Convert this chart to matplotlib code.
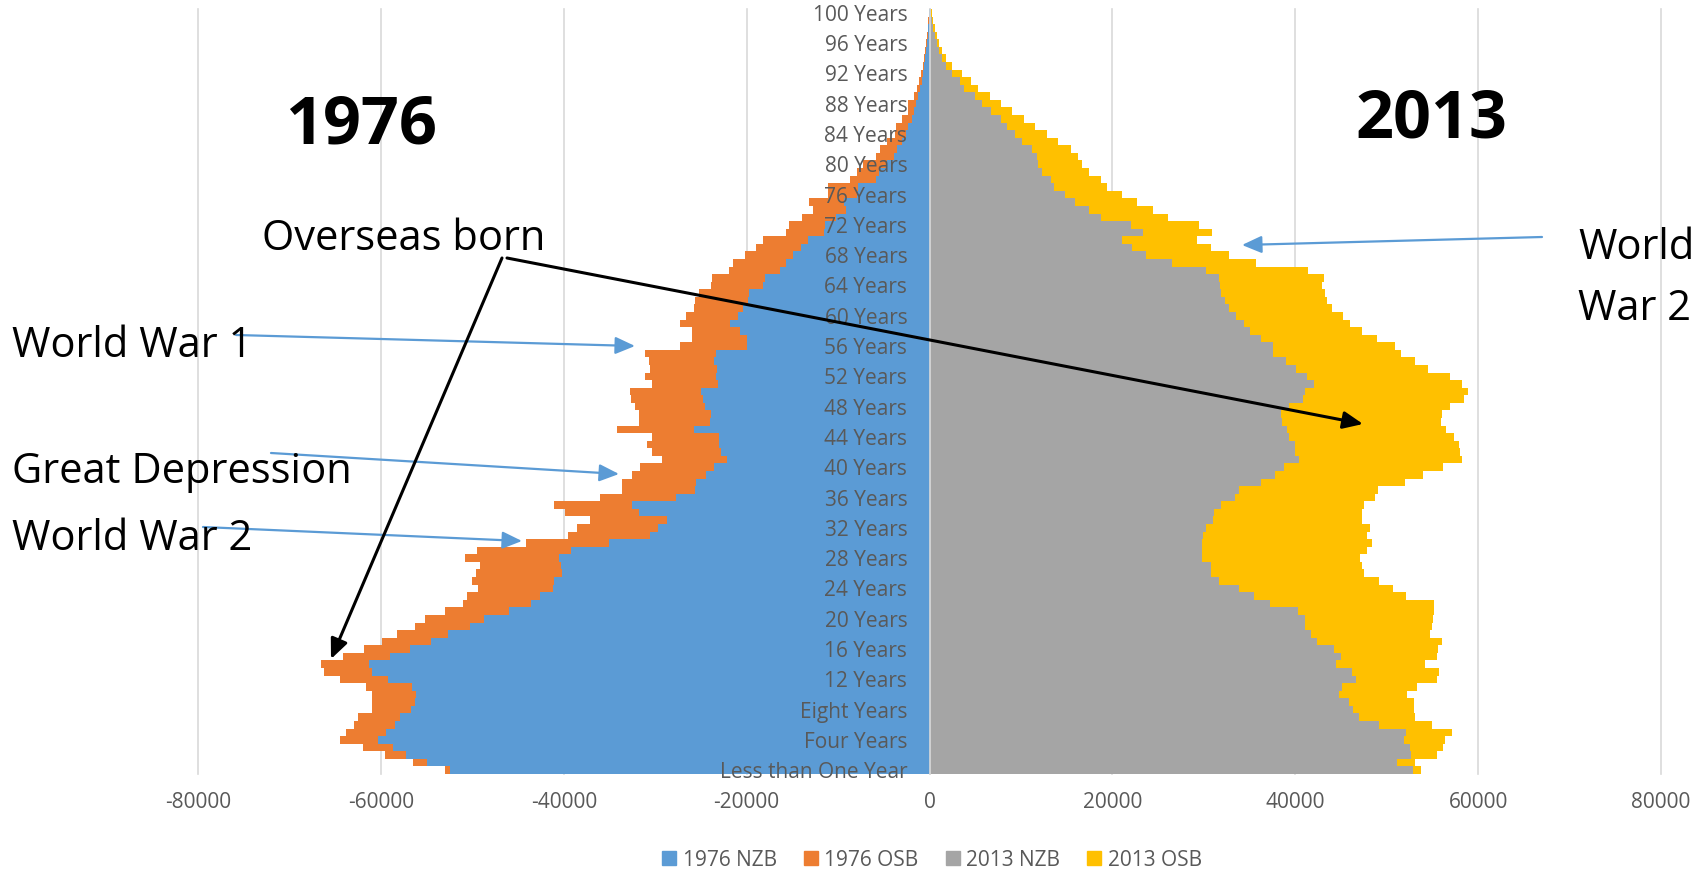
import matplotlib
matplotlib.use("Agg")
import matplotlib.pyplot as plt
from matplotlib.patches import FancyArrowPatch, Patch
import numpy as np

plt.rcParams['font.family'] = ['Open Sans', 'DejaVu Sans']
plt.rcParams['axes.unicode_minus'] = False

ages = np.arange(101)
words = {0: "Less than One Year", 4: "Four Years", 8: "Eight Years"}
age_labels = [words.get(a, f"{a} Years") for a in range(0, 101, 4)]

nzb_1976 = [52400, 55000, 57200, 58700, 60300, 59400, 58500, 57900, 56700, 56300,
            56200, 56600, 59200, 61000, 61300, 59000, 56800, 54500, 52700, 50300,
            48700, 46000, 43600, 42600, 41200, 41100, 40200, 40300, 40500, 39200,
            35100, 30600, 29700, 28700, 31800, 32500, 27700, 25600, 25500, 24400,
            23600, 22200, 22800, 23000, 23000, 25800, 24000, 23900, 24600, 24800,
            25000, 23100, 23300, 23200, 23600, 23400, 20000, 20000, 20700, 21800,
            20900, 20400, 19900, 19700, 18200, 18000, 16400, 15700, 14900, 14100,
            13300, 11500, 11400, 10200, 9100, 9300, 7900, 7800, 5900, 5500,
            4600, 3900, 3600, 3000, 2600, 2400, 1900, 1700, 1500, 1250,
            1000, 800, 700, 600, 450, 350, 270, 200, 140, 100, 80]
osb_1976 = [600, 1500, 2400, 3300, 4200, 4400, 4400, 4600, 4300, 4700,
            4800, 5000, 5300, 5200, 5300, 5100, 5000, 5400, 5500, 6000,
            6500, 7000, 7400, 8000, 8200, 8900, 9400, 8900, 10300, 10300,
            9000, 8900, 8900, 8400, 8100, 8600, 8300, 8000, 8100, 8100,
            8100, 7100, 7600, 7900, 7300, 8400, 7800, 7900, 7600, 7800,
            7800, 7300, 7800, 7400, 7100, 7700, 7300, 6000, 5300, 5500,
            5700, 5400, 5700, 5500, 5700, 5800, 5500, 5800, 5300, 4900,
            4900, 4200, 4000, 3700, 3600, 3900, 3200, 3300, 2800, 2400,
            2700, 1900, 1800, 1700, 1200, 1300, 1100, 700, 800, 450,
            400, 300, 200, 100, 150, 100, 80, 50, 40, 20, 20]
nzb_2013 = [52900, 51100, 52700, 52600, 51900, 52100, 49200, 47000, 46300, 45900,
            44800, 45100, 46600, 46200, 44500, 45000, 44200, 42400, 41700, 41100,
            41100, 40300, 37200, 35500, 33800, 31700, 30800, 30800, 29800, 29800,
            29800, 29900, 30200, 31000, 31100, 31900, 33400, 33900, 36200, 37800,
            38800, 40400, 40000, 40000, 39300, 39100, 38500, 38400, 39300, 40900,
            41100, 42000, 41300, 40100, 39000, 37600, 37600, 36200, 35100, 34400,
            33500, 32800, 32300, 31900, 31800, 31700, 30200, 26500, 23700, 22100,
            21000, 23400, 22000, 18800, 17400, 15900, 14800, 13600, 13300, 12300,
            11900, 11800, 11200, 10100, 9400, 8500, 7800, 6700, 5700, 4950,
            3800, 3300, 2500, 1800, 1400, 1070, 800, 600, 400, 270, 180]
osb_2013 = [900, 2000, 2800, 3600, 4500, 5000, 5800, 6100, 6700, 7100,
            7400, 8200, 8900, 9500, 9700, 10500, 11400, 13700, 13000, 13900,
            14000, 14900, 18000, 16600, 16900, 17500, 16700, 16500, 17300, 18100,
            18600, 17900, 18000, 16300, 16200, 15600, 15300, 15200, 15800, 16200,
            17400, 17800, 18000, 17900, 18100, 17400, 17400, 17700, 17600, 17600,
            17800, 16200, 15600, 14400, 14100, 14000, 13300, 12700, 12200, 11600,
            11700, 11200, 11200, 11300, 11100, 11400, 11200, 9200, 9100, 8700,
            8300, 7500, 7500, 7300, 7000, 6800, 6300, 5800, 5500, 5100,
            4800, 4400, 4300, 3900, 3400, 3000, 2500, 2300, 2100, 1650,
            1500, 1200, 1000, 700, 400, 330, 270, 200, 150, 80, 40]

series_names = ["1976 NZB", "1976 OSB", "2013 NZB", "2013 OSB"]
colors = ["#5B9BD5", "#ED7D31", "#A5A5A5", "#FFC000"]
x_ticks = np.arange(-80000, 80001, 20000)

W, H = 1696, 875
def fx(px):
    return px / W
def fy(py):
    return 1 - py / H

fig = plt.figure(figsize=(W / 100, H / 100), dpi=100)
ax = fig.add_axes([fx(198), fy(774), fx(1661) - fx(198), fy(9) - fy(774)])

# gridlines under the bars, tick labels over them
for v in x_ticks:
    ax.axvline(v, color='#D9D9D9', linewidth=1.2, zorder=0, clip_on=False)

left_nzb = -np.array(nzb_1976)
left_osb = -np.array(osb_1976)
ax.barh(ages, left_nzb, height=1.0, color=colors[0], linewidth=0)
ax.barh(ages, left_osb, left=left_nzb, height=1.0, color=colors[1], linewidth=0)
ax.barh(ages, nzb_2013, height=1.0, color=colors[2], linewidth=0)
ax.barh(ages, osb_2013, left=nzb_2013, height=1.0, color=colors[3], linewidth=0)

ax.set_xlim(-80000, 80000)
ax.set_ylim(-0.5, 100.5)
ax.set_xticks(x_ticks)
ax.set_xticklabels([str(v) for v in x_ticks])
ax.set_yticks(range(0, 101, 4))
ax.set_yticklabels(age_labels)
ax.tick_params(axis='x', length=0, pad=13, labelsize=15, labelcolor='#595959')
ax.tick_params(axis='y', length=0, pad=16, labelsize=15, labelcolor='#595959')
ax.set_axisbelow(False)
for s in ['top', 'right', 'bottom']:
    ax.spines[s].set_visible(False)
ax.spines['left'].set_position(('data', 0))
ax.spines['left'].set_color('#D9D9D9')
ax.spines['left'].set_linewidth(1.2)

handles = [Patch(color=c, label=n) for c, n in zip(colors, series_names)]
fig.legend(handles=handles, loc='center', bbox_to_anchor=(fx(932), fy(860)),
           ncol=4, frameon=False, fontsize=15, labelcolor='#595959',
           handlelength=0.68, handleheight=0.68, handletextpad=0.3,
           columnspacing=1.3)

# titles and notes
fig.text(fx(361), fy(143), "1976", ha='center', va='baseline', fontsize=48, fontweight='bold')
fig.text(fx(1431), fy(137), "2013", ha='center', va='baseline', fontsize=48, fontweight='bold')
fig.text(fx(262), fy(250), "Overseas born", ha='left', va='baseline', fontsize=30)
fig.text(fx(12), fy(357), "World War 1", ha='left', va='baseline', fontsize=30)
fig.text(fx(12), fy(483), "Great Depression", ha='left', va='baseline', fontsize=30)
fig.text(fx(12), fy(550), "World War 2", ha='left', va='baseline', fontsize=30)
fig.text(fx(1578), fy(259), "World", ha='left', va='baseline', fontsize=30)
fig.text(fx(1578), fy(320), "War 2", ha='left', va='baseline', fontsize=30)

def arrow(p0, p1, color, lw):
    a = FancyArrowPatch((fx(p0[0]), fy(p0[1])), (fx(p1[0]), fy(p1[1])),
                        transform=fig.transFigure, color=color, lw=lw,
                        arrowstyle='-|>,head_length=0.8,head_width=0.35',
                        mutation_scale=15, shrinkA=0, shrinkB=0)
    fig.add_artist(a)

arrow((236, 335), (635, 346), '#5B9BD5', 1.6)
arrow((271, 453), (619, 474), '#5B9BD5', 1.6)
arrow((203, 527), (522, 541), '#5B9BD5', 1.6)
arrow((1542, 237), (1242, 245), '#5B9BD5', 1.6)
arrow((502, 258), (331, 659), 'black', 2.2)
arrow((507, 258), (1363, 424), 'black', 2.2)

fig.savefig("out.png", dpi=100)
